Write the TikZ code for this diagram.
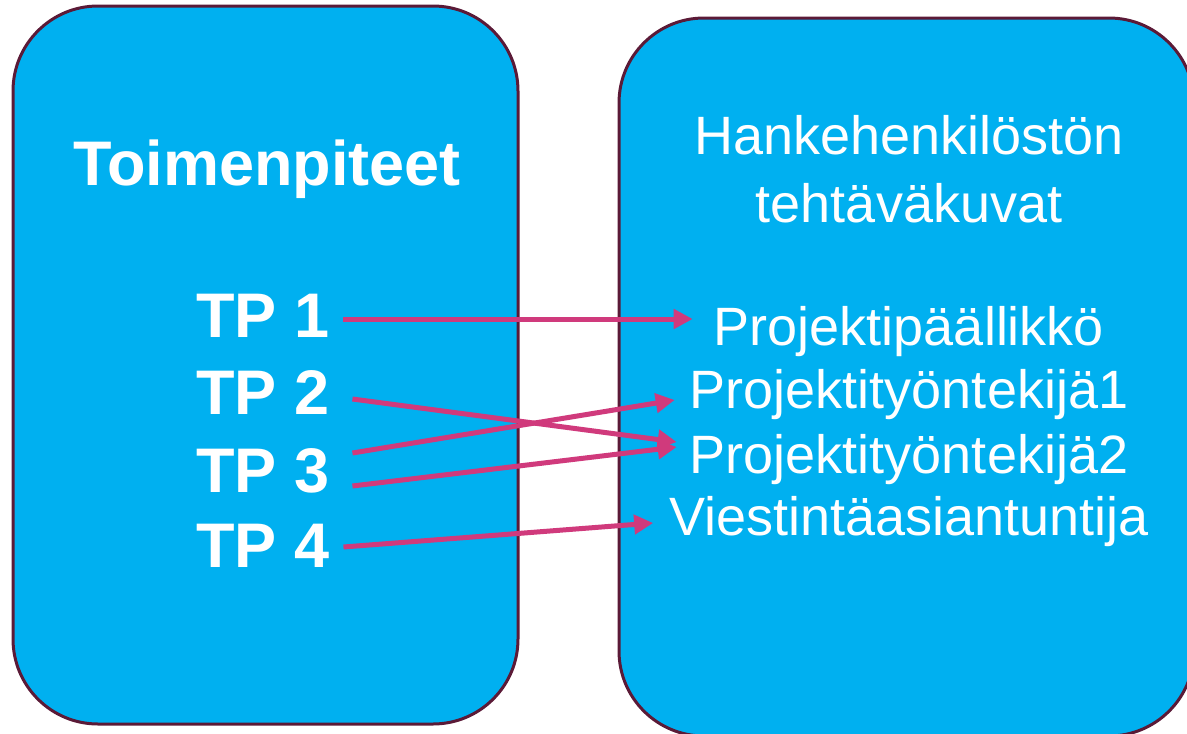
\documentclass[tikz,border=0pt]{standalone}
\usepackage{fontspec}
\setmainfont{Liberation Sans}
\usepackage{xcolor}
\usetikzlibrary{positioning}
\usetikzlibrary{arrows.meta}
\definecolor{boxblue}{HTML}{00B0F0}
\definecolor{boxedge}{HTML}{5B1A37}
\definecolor{linkpink}{HTML}{D03A7C}
\tikzset{
    panel/.style={draw=boxedge, fill=boxblue, line width=3pt, rounded corners=85pt},
    tplabel/.style={text=white, inner sep=0pt, font=\fontsize{63}{75}\selectfont\bfseries},
    rolelabel/.style={text=white, inner sep=0pt, font=\fontsize{54}{65}\selectfont},
    link/.style={draw=linkpink, line width=5pt, -{Triangle[length=19pt,width=19pt]}}
}

\begin{document}
\begin{tikzpicture}[x=1pt,y=-1pt]
\useasboundingbox (0,0) rectangle (1187,734);

% Boxes
\node[panel,
    minimum width=505pt,
    minimum height=718pt
] (toim) at (265.5,365) {};
\node[panel,
    minimum width=575pt,
    minimum height=718pt
] (tehtavat) at (906.5,377) {};

% Left side
\node[tplabel, anchor=base] (otsikko) at (267,185) {Toimenpiteet};
\node[tplabel, anchor=base west] (tp1) at (196,337) {TP 1};
\node[tplabel, anchor=base west] (tp2) at (196,414) {TP 2};
\node[tplabel, anchor=base west] (tp3) at (196,492) {TP 3};
\node[tplabel, anchor=base west] (tp4) at (196,567) {TP 4};

% Right side
\node[rolelabel, anchor=north, align=center] (kuvat) at (909,115) {Hankehenkilöstön\\[3pt]tehtäväkuvat};
\node[rolelabel, anchor=base] (pp) at (909,345) {Projektipäällikkö};
\node[rolelabel, anchor=base] (pt1) at (909,408) {Projektityöntekijä1};
\node[rolelabel, anchor=base] (pt2) at (909,473) {Projektityöntekijä2};
\node[rolelabel, anchor=base] (va) at (909,535) {Viestintäasiantuntija};

% Arrows
\draw[link] ([xshift=14pt,yshift=18pt]tp1.base east) -- ([xshift=-21pt,yshift=26pt]pp.base west);
\draw[link] ([xshift=23pt,yshift=15pt]tp2.base east) -- ([xshift=-13pt,yshift=31pt]pt2.base west);
\draw[link] ([xshift=23pt,yshift=39pt]tp3.base east) -- ([xshift=-15pt,yshift=8pt]pt1.base west);
\draw[link] ([xshift=23pt,yshift=6pt]tp3.base east) -- ([xshift=-13pt,yshift=26pt]pt2.base west);
\draw[link] ([xshift=14pt,yshift=20pt]tp4.base east) -- ([xshift=-16pt,yshift=12pt]va.base west);

\end{tikzpicture}
\end{document}
